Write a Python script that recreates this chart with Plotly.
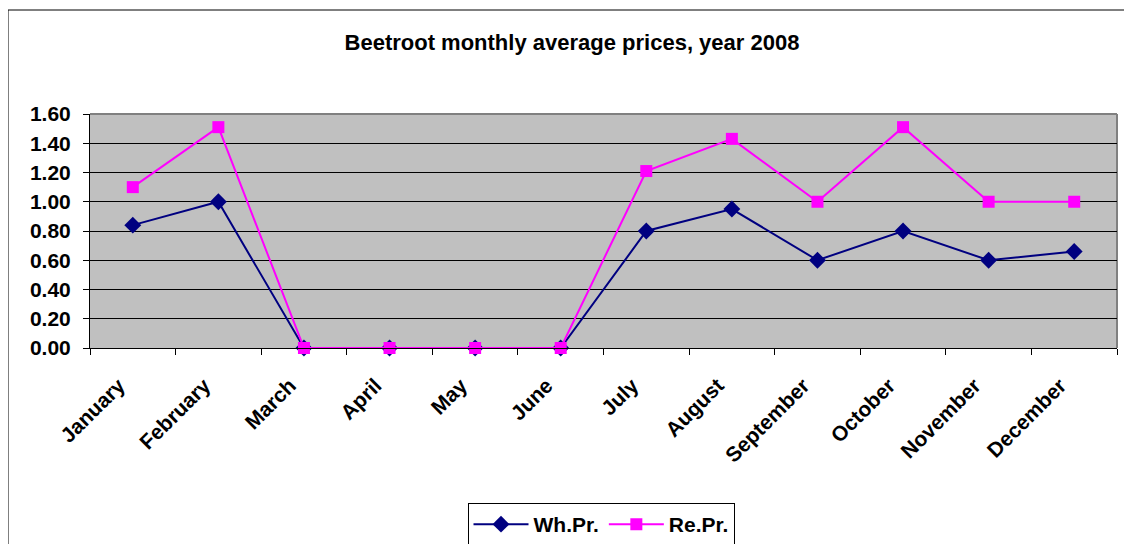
import plotly.graph_objects as go

months = ["January", "February", "March", "April", "May", "June",
          "July", "August", "September", "October", "November", "December"]
wh_pr = [0.84, 1.00, 0.00, 0.00, 0.00, 0.00, 0.80, 0.95, 0.60, 0.80, 0.60, 0.66]
re_pr = [1.10, 1.51, 0.00, 0.00, 0.00, 0.00, 1.21, 1.43, 1.00, 1.51, 1.00, 1.00]
y_ticks = [0, 0.2, 0.4, 0.6, 0.8, 1.0, 1.2, 1.4, 1.6]

FONT = "Liberation Sans, Arial, sans-serif"

fig = go.Figure()
fig.add_trace(go.Scatter(
    x=months, y=wh_pr, name="<b>Wh.Pr.</b>", mode="lines+markers",
    line=dict(color="#000080", width=2),
    marker=dict(symbol="diamond", size=13, color="#000080"),
    cliponaxis=False,
))
fig.add_trace(go.Scatter(
    x=months, y=re_pr, name="<b>Re.Pr.</b>", mode="lines+markers",
    line=dict(color="#FF00FF", width=2),
    marker=dict(symbol="square", size=12, color="#FF00FF"),
    cliponaxis=False,
))

# page has an 8px body margin; figure sized to fit within the viewport
OFF = 8
W, H = 1132 - OFF, 544 - OFF
L, R, T, B = 90 - OFF, W - (1117 - OFF), 114 - OFF, H - (348 - OFF)
pw, ph = W - L - R, H - T - B

def px_x(x):
    return (x - OFF - L) / pw

def px_y(y):
    return (H - B - (y - OFF)) / ph

fig.update_layout(
    width=W, height=H,
    margin=dict(l=L, r=R, t=T, b=B),
    paper_bgcolor="white",
    plot_bgcolor="#C0C0C0",
    font=dict(family=FONT, color="black"),
    title=dict(text="<b>Beetroot monthly average prices, year 2008</b>",
               x=(572 - OFF) / W, xanchor="center", xref="container",
               y=1 - (42 - OFF) / H, yanchor="middle", yref="container",
               font=dict(size=22, family=FONT, color="black")),
    showlegend=True,
    legend=dict(orientation="h", x=px_x(601), xanchor="center",
                y=1 - (503 - OFF) / H, yanchor="top", yref="container",
                bordercolor="black", borderwidth=1, bgcolor="white",
                font=dict(size=21, family=FONT, color="black"),
                itemwidth=55),
    xaxis=dict(type="category", tickson="boundaries", ticks="outside",
               ticklen=6, tickcolor="black", showgrid=False,
               showline=True, linecolor="black", linewidth=1,
               tickangle=-45, tickfont=dict(size=21, family=FONT, color="black"),
               tickprefix="<b>", ticksuffix="</b>",
               ticklabelstandoff=16, ticklabelshift=-14,
               mirror=False, range=[-0.5, 11.5]),
    yaxis=dict(range=[0, 1.6], tickvals=y_ticks,
               ticktext=[f"<b>{v:.2f}</b>" for v in y_ticks],
               ticks="outside", ticklen=6, tickcolor="black",
               ticklabelstandoff=8,
               showgrid=True, gridcolor="black", gridwidth=1,
               showline=True, linecolor="black", linewidth=1,
               zeroline=False,
               tickfont=dict(size=21, family=FONT, color="black")),
    shapes=[
        # outer chart border
        dict(type="rect", xref="paper", yref="paper",
             x0=px_x(8), x1=px_x(1160), y0=px_y(10), y1=px_y(580),
             line=dict(color="black", width=1), fillcolor="rgba(0,0,0,0)",
             layer="below"),
        # plot area top/right border
        dict(type="line", xref="paper", yref="paper", x0=0, x1=1, y0=1, y1=1,
             line=dict(color="#808080", width=2), layer="below"),
        dict(type="line", xref="paper", yref="paper", x0=1, x1=1, y0=0, y1=1,
             line=dict(color="#808080", width=2), layer="below"),
    ],
)

fig.write_html("out.html")
